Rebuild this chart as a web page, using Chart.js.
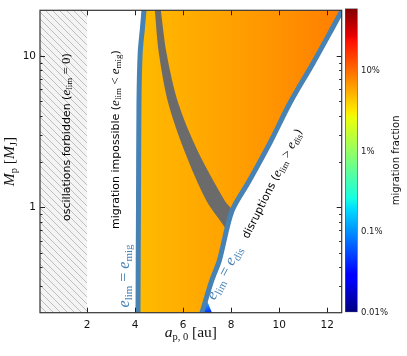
<!DOCTYPE html>
<html><head><meta charset="utf-8">
<script src="https://cdn.jsdelivr.net/npm/chart.js@4/dist/chart.umd.min.js"></script>
<style>
html,body{margin:0;padding:0;background:#fff;}
#wrap{position:relative;width:407px;height:356px;overflow:hidden;}
#mainwrap{position:absolute;left:0;top:0;width:407px;height:356px;}
#cbwrap{position:absolute;left:340px;top:0;width:67px;height:356px;}
</style></head><body>
<div id="wrap">
<div id="mainwrap"><canvas id="main" width="407" height="356"></canvas></div>
<div id="cbwrap"><canvas id="cb" width="67" height="356"></canvas></div>
</div>
<script>
// ---------- axis ranges & ticks ----------
const X_MIN = 0.04, X_MAX = 12.6;
const M_MIN = 0.2, M_MAX = 20;
const xTickValues = [2, 4, 6, 8, 10, 12];
const mMajorTicks = [1, 10];
const mMinorTicks = [0.3, 0.4, 0.5, 0.6, 0.7, 0.8, 0.9, 2, 3, 4, 5, 6, 7, 8, 9];

// ---------- regions / curves (a_p0 [au], M_p [M_J]) ----------
const forbiddenA = [X_MIN, 2, 2, X_MIN];
const forbiddenM = [M_MIN, M_MIN, M_MAX, M_MAX];

const eMigA = [4.12, 4.13, 4.14, 4.16, 4.21, 4.30, 4.37];
const eMigM = [0.2, 0.5, 1, 4.9, 10.4, 15, 20];

const eDisA = [6.78, 7.20, 7.51, 8.03, 8.74, 9.63, 10.45, 11.40, 12.20, 12.60];
const eDisM = [0.2, 0.33, 0.445, 0.94, 1.48, 2.69, 4.89, 8.9, 15.1, 19.8];

const bandLeftA = [4.82, 4.99, 5.375, 6.07, 6.975, 7.74, 7.81];
const bandLeftM = [20, 10.35, 4.89, 2.31, 1.094, 0.73, 0.667];
const bandRightA = [8.03, 7.74, 6.625, 5.79, 5.31, 5.07];
const bandRightM = [0.94, 1.094, 2.31, 4.89, 10.35, 20];

const tipA = [6.86, 6.95, 7.2];
const tipM = [0.2, 0.25, 0.2];

// ---------- annotations ----------
const annotA = [1.11, 3.15, 3.57, 9.70, 7.74];
const annotM = [2.9, 2.79, 0.35, 1.43, 0.366];
const annotAngle = [-90, -90, -90, -63.4, -62];

// ---------- colour bar ----------
const cbMin = 1e-4, cbMax = 0.6;
const cbTickValues = [1e-4, 1e-3, 1e-2, 1e-1];
const cbTickLabels = ['0.01%', '0.1%', '1%', '10%'];

const BLUE = '#4682b4';
const SANS = 'DejaVu Sans';
const SERIF = 'Liberation Serif';

const pts = (A, M) => A.map((a, i) => ({x: a, y: M[i]}));
const orangeData = pts(eMigA, eMigM).concat([{x: X_MAX, y: M_MAX}], pts(eDisA, eDisM).reverse());
const bandData = pts(bandLeftA, bandLeftM).concat(pts(bandRightA, bandRightM));

// hatch pattern
function makeHatch(ctx) {
  const c = document.createElement('canvas');
  c.width = 7; c.height = 7;
  const g = c.getContext('2d');
  g.fillStyle = '#f4f4f4'; g.fillRect(0, 0, 7, 7);
  g.strokeStyle = '#b8b8b8'; g.lineWidth = 0.9;
  g.beginPath();
  for (const o of [-7, 0, 7]) { g.moveTo(o, 0); g.lineTo(o + 7, 7); }
  g.stroke();
  return ctx.createPattern(c, 'repeat');
}

function orangeFill(c) {
  const ch = c.chart;
  if (!ch.chartArea) return '#FFA000';
  const xs = ch.scales.x;
  const g = ch.ctx.createLinearGradient(xs.getPixelForValue(4.2), 0, xs.getPixelForValue(X_MAX), 0);
  g.addColorStop(0, '#FFBA00');
  g.addColorStop(0.5, '#FF9E00');
  g.addColorStop(1, '#FF7E00');
  return g;
}
function tipFill(c) {
  const ch = c.chart;
  if (!ch.chartArea) return '#1090ff';
  const xs = ch.scales.x, ys = ch.scales.y;
  const g = ch.ctx.createLinearGradient(xs.getPixelForValue(6.95), ys.getPixelForValue(0.25), xs.getPixelForValue(7.15), ys.getPixelForValue(0.2));
  g.addColorStop(0, '#30e8ff');
  g.addColorStop(1, '#0020ff');
  return g;
}

function rich(ctx, segs, x, y, ang, color, off) {
  ctx.save();
  ctx.translate(x, y);
  ctx.rotate(ang);
  ctx.fillStyle = color;
  ctx.textBaseline = 'alphabetic';
  ctx.textAlign = 'left';
  let w = 0;
  for (const s of segs) { ctx.font = s.f; w += ctx.measureText(s.t).width; }
  let cx = -w / 2;
  for (const s of segs) {
    ctx.font = s.f;
    ctx.fillText(s.t, cx, (s.dy || 0) + off);
    cx += ctx.measureText(s.t).width;
  }
  ctx.restore();
}

const sans = (s) => s + 'px ' + SANS;
const ser = (s) => s + 'px "' + SERIF + '"';
const iser = (s) => 'italic ' + s + 'px "' + SERIF + '"';

const annotSegs = [
  [{t: 'oscillations forbidden (', f: sans(11)}, {t: 'e', f: iser(13)}, {t: 'lim', f: ser(9), dy: 2.7}, {t: ' = 0', f: ser(13)}, {t: ')', f: sans(11)}],
  [{t: 'migration impossible (', f: sans(11)}, {t: 'e', f: iser(13)}, {t: 'lim', f: ser(9), dy: 2.7}, {t: ' < ', f: ser(13)}, {t: 'e', f: iser(13)}, {t: 'mig', f: ser(9), dy: 2.7}, {t: ')', f: sans(11)}],
  [{t: 'e', f: iser(16)}, {t: 'lim', f: ser(11), dy: 3.2}, {t: ' = ', f: ser(16)}, {t: 'e', f: iser(16)}, {t: 'mig', f: ser(11), dy: 3.2}],
  [{t: 'disruptions (', f: sans(11)}, {t: 'e', f: iser(13)}, {t: 'lim', f: ser(9), dy: 2.7}, {t: ' > ', f: ser(13)}, {t: 'e', f: iser(13)}, {t: 'dis', f: ser(9), dy: 2.7}, {t: ')', f: sans(11)}],
  [{t: 'e', f: iser(16)}, {t: 'lim', f: ser(11), dy: 3.2}, {t: ' = ', f: ser(16)}, {t: 'e', f: iser(16)}, {t: 'dis', f: ser(11), dy: 3.2}]
];
const annotColor = ['#000', '#000', BLUE, '#000', BLUE];

const framePlugin = {
  id: 'frame',
  afterDatasetsDraw(chart) {
    const ctx = chart.ctx, ca = chart.chartArea;
    const xs = chart.scales.x, ys = chart.scales.y;
    ctx.save();
    // annotations
    for (let i = 0; i < annotSegs.length; i++) {
      rich(ctx, annotSegs[i], xs.getPixelForValue(annotA[i]), ys.getPixelForValue(annotM[i]),
           annotAngle[i] * Math.PI / 180, annotColor[i], 3.8);
    }
    // ticks
    ctx.strokeStyle = '#222'; ctx.lineWidth = 1;
    ctx.beginPath();
    for (const v of xTickValues) {
      const p = Math.round(xs.getPixelForValue(v)) + 0.5;
      ctx.moveTo(p, ca.bottom); ctx.lineTo(p, ca.bottom - 5);
      ctx.moveTo(p, ca.top); ctx.lineTo(p, ca.top + 5);
    }
    for (const v of mMajorTicks) {
      const p = Math.round(ys.getPixelForValue(v)) + 0.5;
      ctx.moveTo(ca.left, p); ctx.lineTo(ca.left + 5, p);
      ctx.moveTo(ca.right, p); ctx.lineTo(ca.right - 5, p);
    }
    for (const v of mMinorTicks) {
      const p = Math.round(ys.getPixelForValue(v)) + 0.5;
      ctx.moveTo(ca.left, p); ctx.lineTo(ca.left + 2.5, p);
      ctx.moveTo(ca.right, p); ctx.lineTo(ca.right - 2.5, p);
    }
    ctx.stroke();
    // frame
    ctx.strokeStyle = '#333'; ctx.lineWidth = 1.2;
    ctx.strokeRect(ca.left, ca.top, ca.right - ca.left, ca.bottom - ca.top);
    // axis titles
    rich(ctx, [{t: 'a', f: iser(15.5)}, {t: 'p, 0', f: ser(10.5), dy: 3}, {t: ' [au]', f: ser(15.5)}],
         (ca.left + ca.right) / 2, 337, 0, '#111', 0);
    rich(ctx, [{t: 'M', f: iser(15.5)}, {t: 'p', f: ser(10.5), dy: 3}, {t: ' [', f: ser(15.5)}, {t: 'M', f: iser(15.5)}, {t: 'J', f: ser(10.5), dy: 3}, {t: ']', f: ser(15.5)}],
         13.5, (ca.top + ca.bottom) / 2, -Math.PI / 2, '#111', 0);
    ctx.restore();
  }
};

const mainCanvas = document.getElementById('main');
const mctx = mainCanvas.getContext('2d');
const hatch = makeHatch(mctx);
const NOLINE = 'rgba(0,0,0,0)';
const T = 0.3;

new Chart(mainCanvas, {
  type: 'line',
  data: {
    datasets: [
      {label: 'eMig', data: pts(eMigA, eMigM), borderColor: BLUE, borderWidth: 5, fill: false, order: 0, clip: 0, tension: T},
      {label: 'eDis', data: pts(eDisA, eDisM), borderColor: BLUE, borderWidth: 5, fill: false, order: 0, clip: 0, tension: T},
      {label: 'band', data: bandData, borderColor: NOLINE, borderWidth: 0, backgroundColor: '#6b6b6b', fill: 'shape', order: 1, tension: T},
      {label: 'tip', data: pts(tipA, tipM), borderColor: NOLINE, borderWidth: 0, backgroundColor: tipFill, fill: 'shape', order: 2},
      {label: 'migration', data: orangeData, borderColor: NOLINE, borderWidth: 0, backgroundColor: orangeFill, fill: 'shape', order: 3, tension: T},
      {label: 'forbidden', data: pts(forbiddenA, forbiddenM), borderColor: NOLINE, borderWidth: 0, backgroundColor: hatch, fill: 'shape', order: 4}
    ]
  },
  options: {
    responsive: false,
    animation: false,
    devicePixelRatio: 1,
    elements: {point: {radius: 0, hoverRadius: 0}, line: {tension: 0.0001, borderJoinStyle: 'round'}},
    plugins: {legend: {display: false}, tooltip: {enabled: false}},
    layout: {padding: {left: 0, top: 6.7, right: 65.3, bottom: 0}},
    scales: {
      x: {
        type: 'linear', min: X_MIN, max: X_MAX,
        grid: {display: false, drawTicks: false}, border: {display: false},
        ticks: {padding: 6, color: '#111', font: {size: 10.5, family: SANS}, maxRotation: 0, autoSkip: false, callback: v => String(v)},
        afterBuildTicks: s => { s.ticks = xTickValues.map(v => ({value: v})); },
        afterFit: s => { s.height = 43.3; }
      },
      y: {
        type: 'logarithmic', min: M_MIN, max: M_MAX,
        grid: {display: false, drawTicks: false}, border: {display: false},
        ticks: {padding: 4, color: '#111', font: {size: 10.5, family: SANS}, autoSkip: false, callback: v => String(v)},
        afterBuildTicks: s => { s.ticks = mMajorTicks.map(v => ({value: v})); },
        afterFit: s => { s.width = 40; }
      }
    }
  },
  plugins: [framePlugin]
});

// ---------- colour bar ----------
const jetStops = [[0, '#000080'], [0.11, '#0000ff'], [0.125, '#0000ff'], [0.34, '#00dcff'], [0.375, '#14ffe2'],
  [0.5, '#7cff7c'], [0.64, '#eeff08'], [0.66, '#ffec00'], [0.89, '#ff1300'], [0.91, '#e80000'], [1, '#800000']];
function jetFill(c) {
  const ch = c.chart;
  if (!ch.chartArea) return '#888';
  const ca = ch.chartArea;
  const g = ch.ctx.createLinearGradient(0, ca.bottom, 0, ca.top);
  for (const [p, col] of jetStops) g.addColorStop(p, col);
  return g;
}
const cbTitlePlugin = {
  id: 'cbtitle',
  afterDraw(chart) {
    const ctx = chart.ctx, ca = chart.chartArea;
    ctx.save();
    ctx.translate(58.5, (ca.top + ca.bottom) / 2);
    ctx.rotate(-Math.PI / 2);
    ctx.fillStyle = '#111';
    ctx.font = sans(10);
    ctx.textAlign = 'center';
    ctx.textBaseline = 'alphabetic';
    ctx.fillText('migration fraction', 0, 0);
    ctx.restore();
  }
};
new Chart(document.getElementById('cb'), {
  type: 'bar',
  data: {labels: [''], datasets: [{data: [[cbMin, cbMax]], backgroundColor: jetFill, borderColor: '#555', borderWidth: 1, borderSkipped: false, categoryPercentage: 1, barPercentage: 1}]},
  options: {
    responsive: false, animation: false, devicePixelRatio: 1,
    plugins: {legend: {display: false}, tooltip: {enabled: false}},
    layout: {padding: {left: 5, top: 7, right: 0, bottom: 43.7}},
    scales: {
      x: {display: false},
      y: {
        type: 'logarithmic', position: 'right', min: cbMin, max: cbMax,
        grid: {display: false, drawTicks: false}, border: {display: false},
        ticks: {padding: 3.3, color: '#222', font: {size: 8.5, family: SANS}, autoSkip: false,
          callback: (v) => { const i = cbTickValues.findIndex(t => Math.abs(Math.log10(t) - Math.log10(v)) < 1e-6); return i >= 0 ? cbTickLabels[i] : ''; }},
        afterBuildTicks: s => { s.ticks = cbTickValues.map(v => ({value: v})); },
        afterFit: s => { s.width = 49.3; }
      }
    }
  },
  plugins: [cbTitlePlugin]
});
</script>
</body></html>
